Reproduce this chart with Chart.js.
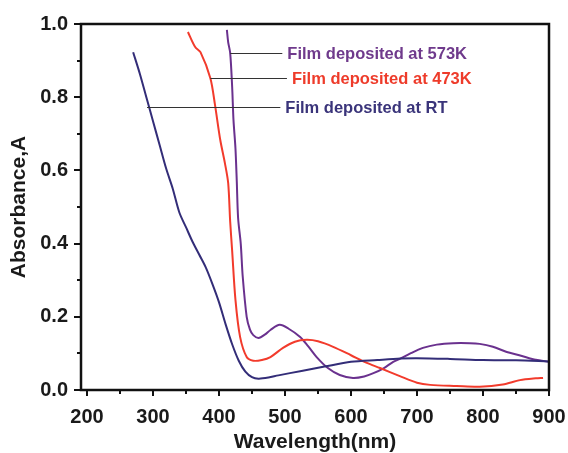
<!DOCTYPE html>
<html lang="en">
<head>
    <meta charset="UTF-8">
    <title>Absorbance vs Wavelength</title>
    <script src="https://cdn.jsdelivr.net/npm/chart.js"></script>
    <style>
        html, body {
            margin: 0;
            padding: 0;
            background: #ffffff;
        }
        #wrap {
            width: 568px;
            height: 453px;
        }
    </style>
</head>
<body>
    <div id="wrap">
        <canvas id="chart" width="568" height="453"></canvas>
    </div>

    <script>
        // tick labels
        const xTicks = [200, 300, 400, 500, 600, 700, 800, 900];
        const yTicks = [0.0, 0.2, 0.4, 0.6, 0.8, 1.0];

        // Film deposited at RT
        const rtWave = [270, 280, 290, 300, 310, 320, 330, 340, 350, 360, 370, 380, 390, 400, 410, 420, 430, 440, 450, 460, 475, 490, 525, 560, 600, 640, 675, 700, 750, 800, 850, 900];
        const rtAbs  = [0.923, 0.865, 0.80, 0.735, 0.67, 0.605, 0.55, 0.485, 0.445, 0.405, 0.37, 0.335, 0.29, 0.24, 0.18, 0.125, 0.08, 0.05, 0.035, 0.031, 0.034, 0.04, 0.052, 0.064, 0.077, 0.082, 0.086, 0.087, 0.085, 0.082, 0.081, 0.078];

        // Film deposited at 473K
        const k473Wave = [353, 364, 372, 387, 394, 402, 409, 414, 417, 420, 425, 432, 442, 452, 465, 478, 497, 515, 533, 550, 573, 600, 624, 644, 674, 700, 720, 760, 795, 830, 856, 880, 891];
        const k473Abs  = [0.978, 0.937, 0.923, 0.852, 0.779, 0.683, 0.62, 0.565, 0.46, 0.38, 0.246, 0.145, 0.09, 0.08, 0.082, 0.09, 0.115, 0.132, 0.137, 0.133, 0.118, 0.095, 0.074, 0.06, 0.038, 0.02, 0.014, 0.011, 0.009, 0.015, 0.027, 0.032, 0.033];

        // Film deposited at 573K
        const k573Wave = [412, 414, 417, 420, 422, 425, 427, 429, 433, 436, 442, 447, 452, 460, 470, 478, 492, 505, 523, 535, 548, 565, 583, 603, 620, 634, 650, 664, 674, 690, 709, 730, 755, 780, 795, 815, 836, 855, 870, 885, 900];
        const k573Abs  = [0.984, 0.95, 0.921, 0.828, 0.738, 0.66, 0.57, 0.47, 0.40, 0.31, 0.20, 0.165, 0.15, 0.142, 0.152, 0.164, 0.178, 0.168, 0.145, 0.12, 0.09, 0.06, 0.041, 0.033, 0.037, 0.046, 0.06, 0.077, 0.085, 0.1, 0.115, 0.124, 0.128, 0.128, 0.126, 0.118, 0.104, 0.095, 0.087, 0.081, 0.077];

        const seriesNames = ["Film deposited at RT", "Film deposited at 473K", "Film deposited at 573K"];
        const seriesColors = ["#332d78", "#f23b2c", "#6a318e"];

        // label callouts: from wavelength, to wavelength, absorbance
        const calloutFrom = [291, 387, 417];
        const calloutTo   = [493, 503, 496];
        const calloutAbs  = [0.773, 0.852, 0.921];
        const labelColors = ["#3a347a", "#ee3b2a", "#6f3a8c"];

        const fontFamily = "'Liberation Sans', Arial, sans-serif";

        function pairs(xs, ys) {
            return xs.map((x, i) => ({ x: x, y: ys[i] }));
        }

        const framePlugin = {
            id: "frame",
            afterDraw(chart) {
                const ctx = chart.ctx;
                const a = chart.chartArea;
                const xs = chart.scales.x;
                const ys = chart.scales.y;
                ctx.save();
                ctx.strokeStyle = "#111111";

                // minor and major ticks, pointing outward
                ctx.lineWidth = 2;
                ctx.beginPath();
                for (let v = 200; v <= 900; v += 50) {
                    const px = Math.round(xs.getPixelForValue(v));
                    const len = v % 100 === 0 ? 6 : 4;
                    ctx.moveTo(px, a.bottom);
                    ctx.lineTo(px, a.bottom + len);
                }
                for (let i = 0; i <= 10; i++) {
                    const py = Math.round(ys.getPixelForValue(i / 10));
                    const len = i % 2 === 0 ? 7 : 4;
                    ctx.moveTo(a.left, py);
                    ctx.lineTo(a.left - len, py);
                }
                ctx.stroke();

                // box
                ctx.lineWidth = 2.5;
                ctx.strokeRect(a.left, a.top, a.right - a.left, a.bottom - a.top);

                // callouts
                ctx.lineWidth = 1;
                ctx.strokeStyle = "#333333";
                ctx.font = "bold 16.5px " + fontFamily;
                ctx.textBaseline = "middle";
                ctx.textAlign = "left";
                for (let i = 0; i < seriesNames.length; i++) {
                    const x1 = xs.getPixelForValue(calloutFrom[i]);
                    const x2 = xs.getPixelForValue(calloutTo[i]);
                    const py = Math.round(ys.getPixelForValue(calloutAbs[i])) + 0.5;
                    ctx.beginPath();
                    ctx.moveTo(x1, py);
                    ctx.lineTo(x2, py);
                    ctx.stroke();
                    ctx.fillStyle = labelColors[i];
                    ctx.fillText(seriesNames[i], x2 + 5, py + 1);
                }
                ctx.restore();
            }
        };

        const ctx = document.getElementById("chart").getContext("2d");
        const chart = new Chart(ctx, {
            type: "scatter",
            data: {
                datasets: [
                    { label: seriesNames[0], data: pairs(rtWave, rtAbs) },
                    { label: seriesNames[1], data: pairs(k473Wave, k473Abs) },
                    { label: seriesNames[2], data: pairs(k573Wave, k573Abs) }
                ].map((d, i) => Object.assign(d, {
                    showLine: true,
                    borderColor: seriesColors[i],
                    backgroundColor: seriesColors[i],
                    borderWidth: 2,
                    pointRadius: 0,
                    tension: 0.3
                }))
            },
            options: {
                responsive: false,
                animation: false,
                layout: { padding: { top: 24, right: 19, left: 0, bottom: 0 } },
                plugins: {
                    legend: { display: false },
                    tooltip: { enabled: false }
                },
                scales: {
                    x: {
                        type: "linear",
                        min: 191,
                        max: 900,
                        afterBuildTicks: s => { s.ticks = xTicks.map(v => ({ value: v })); },
                        afterFit: s => { s.height = 63; s.paddingLeft = 0; s.paddingRight = 0; },
                        grid: { display: false },
                        border: { display: false },
                        ticks: {
                            padding: 7,
                            color: "#1a1a1a",
                            font: { family: fontFamily, size: 20, weight: "bold" },
                            maxRotation: 0
                        },
                        title: {
                            display: true,
                            text: "Wavelength(nm)",
                            color: "#1a1a1a",
                            padding: { top: 0, bottom: 0 },
                            font: { family: fontFamily, size: 21, weight: "bold", lineHeight: 1 }
                        }
                    },
                    y: {
                        min: 0,
                        max: 1,
                        afterBuildTicks: s => { s.ticks = yTicks.map(v => ({ value: v })); },
                        afterFit: s => { s.width = 81; s.paddingTop = 0; s.paddingBottom = 0; },
                        grid: { display: false },
                        border: { display: false },
                        ticks: {
                            padding: 5,
                            color: "#1a1a1a",
                            font: { family: fontFamily, size: 20, weight: "bold" },
                            callback: v => v.toFixed(1)
                        },
                        title: {
                            display: true,
                            text: "Absorbance,A",
                            color: "#1a1a1a",
                            padding: { top: 9, bottom: 0 },
                            font: { family: fontFamily, size: 21, weight: "bold", lineHeight: 1 }
                        }
                    }
                }
            },
            plugins: [framePlugin]
        });
    </script>
</body>
</html>
